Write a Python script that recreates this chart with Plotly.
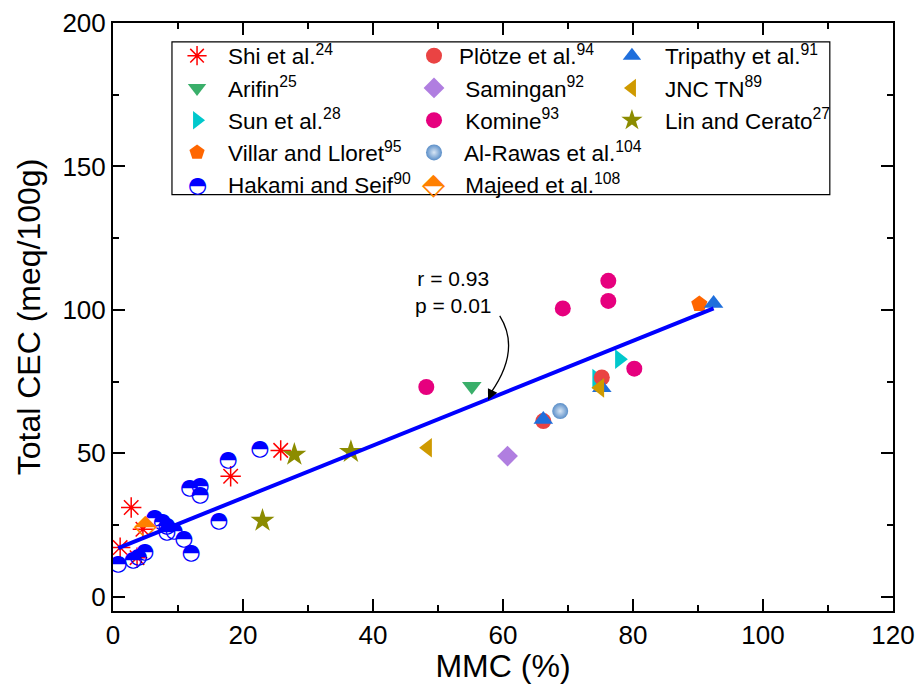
import plotly.graph_objects as go

# ---------------- data ----------------
shi_x = [1.1, 2.8, 3.7, 4.6, 18.1, 25.8]
shi_y = [17.1, 31.1, 13.6, 23.5, 42.0, 51.0]
arifin_x = [55.2]
arifin_y = [73.4]
sun_x = [74.4, 77.9]
sun_y = [76.0, 82.8]
villar_x = [90.2]
villar_y = [102.0]
hakami_x = [0.8, 3.1, 3.9, 4.9, 6.4, 7.6, 8.3, 8.3, 9.4, 10.9, 12.0, 11.8, 13.4, 13.4, 16.3, 17.7, 22.6]
hakami_y = [11.1, 12.5, 13.6, 15.5, 27.2, 26.0, 24.4, 22.4, 22.7, 20.0, 15.2, 37.7, 38.5, 35.2, 26.2, 47.6, 51.3]
plotze_x = [66.2, 75.2]
plotze_y = [61.2, 76.4]
samingan_x = [60.7]
samingan_y = [49.0]
komine_x = [48.2, 69.2, 76.2, 76.2, 80.2]
komine_y = [73.1, 100.5, 103.1, 110.1, 79.5]
alrawas_x = [68.8]
alrawas_y = [64.7]
majeed_x = [5.0]
majeed_y = [24.1]
tripathy_x = [66.2, 75.2, 92.4]
tripathy_y = [61.8, 72.8, 102.2]
jnc_x = [48.4, 74.9]
jnc_y = [51.9, 72.8]
lin_x = [23.0, 27.9, 36.6]
lin_y = [26.5, 49.5, 50.5]

fit_slope = 0.9127
fit_intercept = 16.2
fit_r = 0.93
fit_p = 0.01

x_ticks = [0, 20, 40, 60, 80, 100, 120]
y_ticks = [0, 50, 100, 150, 200]

FONT = "Liberation Sans, Arial, sans-serif"
HALF_CIRCLE = "◓"
HALF_DIAMOND = "⬘"
fig = go.Figure()

def add(name, xs, ys, legend, symbol, color, size=14, line=None, gradient=None):
    m = dict(symbol=symbol, color=color, size=size, line=line or dict(width=0))
    if gradient:
        m["gradient"] = gradient
    fig.add_trace(go.Scatter(x=xs, y=ys, mode="markers", name=name, marker=m,
                             legend=legend, showlegend=True))

def add_glyph_series(name, xs, ys, legend, glyph, color, gsize):
    # invisible legend entry (icon drawn by an annotation glyph)
    fig.add_trace(go.Scatter(x=[None], y=[None], mode="markers", name=name,
                             marker=dict(symbol="circle", color="rgba(0,0,0,0)", size=14),
                             legend=legend, showlegend=True))
    fig.add_trace(go.Scatter(x=xs, y=ys, mode="text", text=[glyph] * len(xs),
                             textfont=dict(family="DejaVu Sans", size=gsize, color=color),
                             textposition="middle center", showlegend=False, hoverinfo="skip"))

add("Shi et al.<sup>24</sup>", shi_x, shi_y, "legend", "asterisk-open", "#ff0000", 17,
    dict(color="#ff0000", width=1.5))
add("Arifin<sup>25</sup>", arifin_x, arifin_y, "legend", "triangle-down", "#3aaf6a", 17)
add("Sun et al.<sup>28</sup>", sun_x, sun_y, "legend", "triangle-right", "#00c8cc", 17)
add("Villar and Lloret<sup>95</sup>", villar_x, villar_y, "legend", "pentagon", "#ff6600", 17)
add_glyph_series("Hakami and Seif<sup>90</sup>", hakami_x, hakami_y, "legend", HALF_CIRCLE, "#0000ff", 22)
add("Plötze et al.<sup>94</sup>", plotze_x, plotze_y, "legend2", "circle", "#ea4343", 16)
add(" Samingan<sup>92</sup>", samingan_x, samingan_y, "legend2", "diamond", "#b07ee0", 16)
add(" Komine<sup>93</sup>", komine_x, komine_y, "legend2", "circle", "#e6007e", 16)
add(" Al-Rawas et al.<sup>104</sup>", alrawas_x, alrawas_y, "legend2", "circle", "#5a8ec8", 16,
    gradient=dict(type="radial", color="#d8e6f5"))
add_glyph_series(" Majeed et al.<sup>108</sup>", majeed_x, majeed_y, "legend2", HALF_DIAMOND, "#ff8000", 30)
add("Tripathy et al.<sup>91</sup>", tripathy_x, tripathy_y, "legend3", "triangle-up", "#1f6fdc", 17)
add("JNC TN<sup>89</sup>", jnc_x, jnc_y, "legend3", "triangle-left", "#cf9a00", 17)
add("Lin and Cerato<sup>27</sup>", lin_x, lin_y, "legend3", "star", "#8c8c00", 18)

all_x = (shi_x + arifin_x + sun_x + villar_x + hakami_x + plotze_x + samingan_x + komine_x
         + alrawas_x + majeed_x + tripathy_x + jnc_x + lin_x)
xl = [min(all_x), max(all_x)]
fig.add_trace(go.Scatter(x=xl, y=[fit_slope * v + fit_intercept for v in xl], mode="lines",
                         line=dict(color="#0000ff", width=4), showlegend=False, hoverinfo="skip"))

# legend icons for the half-filled symbols
fig.add_annotation(x=0.1077, y=0.7245, xref="paper", yref="paper", showarrow=False,
                   text=HALF_CIRCLE, font=dict(family="DejaVu Sans", size=22, color="#0000ff"),
                   xanchor="center", yanchor="middle")
fig.add_annotation(x=0.4115, y=0.7275, xref="paper", yref="paper", showarrow=False,
                   text=HALF_DIAMOND, font=dict(family="DejaVu Sans", size=30, color="#ff8000"),
                   xanchor="center", yanchor="middle")

# annotation text and curved arrow
fig.add_annotation(x=52.3, y=106.2, xref="x", yref="y", showarrow=False,
                   text=f"r = {fit_r:.2f}<br>p = {fit_p:.2f}",
                   font=dict(family=FONT, size=21, color="black"), align="center")
fig.add_shape(type="path", xref="x", yref="y",
              path="M 59.5,97.9 Q 62.8,86 58.1,71.0", line=dict(color="black", width=1.3))
fig.add_annotation(x=57.7, y=68.6, ax=58.3, ay=71.4, xref="x", yref="y", axref="x", ayref="y",
                   showarrow=True, arrowhead=2, arrowsize=1.6, arrowwidth=1.3, arrowcolor="black",
                   text="")

# legend box
fig.add_shape(type="rect", xref="paper", yref="paper", x0=0.0756, x1=0.919, y0=0.708, y1=0.968,
              line=dict(color="black", width=1.2), fillcolor="rgba(0,0,0,0)", layer="below")

leg = dict(bgcolor="rgba(0,0,0,0)", borderwidth=0, font=dict(family=FONT, size=22.5, color="black"),
           xanchor="left", yanchor="top", tracegroupgap=0)

axis_common = dict(showline=True, linecolor="black", linewidth=2, mirror="ticks", ticks="inside",
                   ticklen=12, tickwidth=2, tickcolor="black", showgrid=False, zeroline=False,
                   automargin=False, tickfont=dict(family=FONT, size=26, color="black"))

fig.update_layout(
    width=921, height=684, margin=dict(l=113, r=28, t=23, b=73),
    plot_bgcolor="white", paper_bgcolor="white",
    xaxis=dict(range=[0, 120], tickvals=x_ticks, title=dict(text="MMC (%)", standoff=4,
               font=dict(family=FONT, size=32, color="black")),
               minor=dict(ticks="inside", ticklen=6, tickwidth=2, dtick=10, tickcolor="black"),
               **axis_common),
    yaxis=dict(range=[-5, 200], tickvals=y_ticks, title=dict(text="Total CEC (meq/100g)", standoff=12,
               font=dict(family=FONT, size=32, color="black")),
               minor=dict(ticks="inside", ticklen=6, tickwidth=2, dtick=25, tickcolor="black"),
               **axis_common),
    legend=dict(x=0.068, y=0.9804, itemwidth=52, **leg),
    legend2=dict(x=0.3795, y=0.9804, itemwidth=40, **leg),
    legend3=dict(x=0.623, y=0.9804, itemwidth=56, **leg),
    showlegend=True,
)

fig.write_html("out.html")
